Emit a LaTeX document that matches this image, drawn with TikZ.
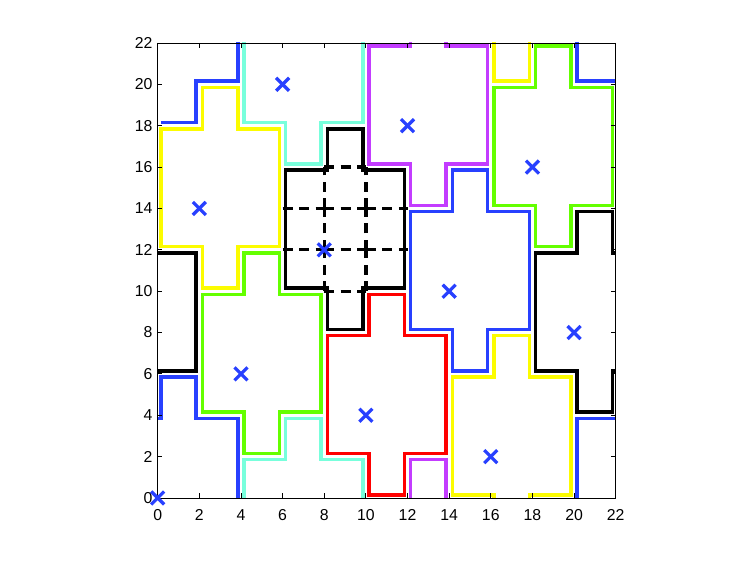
\documentclass[tikz,border=0pt]{standalone}
\usepackage{fontspec}
\setmainfont{Liberation Sans}
\definecolor{tblue}{RGB}{40,64,255}
\definecolor{tyellow}{RGB}{252,252,0}
\definecolor{tgreen}{RGB}{100,255,0}
\definecolor{tcyan}{RGB}{120,255,220}
\definecolor{tpurple}{RGB}{195,60,255}
\definecolor{tred}{RGB}{255,0,0}
\definecolor{tblack}{RGB}{0,0,0}
\tikzset{
  tileline/.style={line width=0.07cm, line join=miter},
  gridline/.style={line width=0.065cm, black, dash pattern=on 0.2cm off 0.13cm},
  markline/.style={line width=0.065cm, tblue},
  axisline/.style={line width=0.5pt, black},
  ticklabel/.style={inner sep=0pt, font=\fontsize{9}{10}\selectfont},
}
\begin{document}
\begin{tikzpicture}
\useasboundingbox (0,0) rectangle (14.94cm,11.24cm);
\begin{scope}[shift={(3.154cm,1.28cm)}, x=0.41636cm, y=0.41364cm]
  \def\dd{0.15}
  % tiles
  \begin{scope}
    \clip (0,0) rectangle (22,22);
    \foreach \a/\b/\c in {0/0/tblue, 2/14/tyellow, 4/6/tgreen, 6/20/tcyan, 8/12/tblack,
                          10/4/tred, 12/18/tpurple, 14/10/tblue, 16/2/tyellow, 18/16/tgreen, 20/8/tblack}{
      \foreach \i in {-22,0,22}{
        \foreach \j in {-22,0,22}{
          \pgfmathsetmacro\ax{\a+\i}
          \pgfmathsetmacro\by{\b+\j}
          \pgfmathtruncatemacro\skipit{(\a==0)*(\b==0)*(\i==0)*(\j==22)}
          \ifnum\skipit=0
          \draw[tileline,\c]
            ({\ax-2+\dd},{\by-2+\dd}) -- ({\ax+\dd},{\by-2+\dd}) -- ({\ax+\dd},{\by-4+\dd})
            -- ({\ax+2-\dd},{\by-4+\dd}) -- ({\ax+2-\dd},{\by-2+\dd}) -- ({\ax+4-\dd},{\by-2+\dd})
            -- ({\ax+4-\dd},{\by+4-\dd}) -- ({\ax+2-\dd},{\by+4-\dd}) -- ({\ax+2-\dd},{\by+6-\dd})
            -- ({\ax+\dd},{\by+6-\dd}) -- ({\ax+\dd},{\by+4-\dd}) -- ({\ax-2+\dd},{\by+4-\dd}) -- cycle;
          \else
          \draw[tileline,\c]
            ({\dd},{18+\dd}) -- ({2-\dd},{18+\dd}) -- ({2-\dd},{20+\dd})
            -- ({4-\dd},{20+\dd}) -- ({4-\dd},23);
          \fi
        }
      }
    }
  \end{scope}
  % dashed internal cell edges of the central tile
  \foreach \y in {10,12,14}{
    \draw[gridline] (8,\y) -- (8,\y+2);
    \draw[gridline] (10,\y) -- (10,\y+2);
  }
  \foreach \x in {6,8,10}{
    \draw[gridline] (\x,12) -- (\x+2,12);
    \draw[gridline] (\x,14) -- (\x+2,14);
  }
  \draw[gridline] (8,16) -- (10,16);
  \draw[gridline] (8,10) -- (10,10);
  % axes box and ticks
  \draw[axisline] (0,0) rectangle (22,22);
  \foreach \v in {0,2,...,22}{
    \draw[axisline] (\v,0) -- (\v,0.22);
    \draw[axisline] (\v,22) -- (\v,21.78);
    \draw[axisline] (0,\v) -- (0.22,\v);
    \draw[axisline] (22,\v) -- (21.78,\v);
    \node[ticklabel, anchor=center] (xl\v) at ([yshift=-0.34cm]\v,0) {\v};
    \node[ticklabel, anchor=east] (yl\v) at ([xshift=-0.1cm]0,\v) {\v};
  }
  % markers
  \foreach \a/\b in {0/0, 2/14, 4/6, 6/20, 8/12, 10/4, 12/18, 14/10, 16/2, 18/16, 20/8}{
    \coordinate (m\a) at (\a,\b);
    \draw[markline] ([shift={(-0.13cm,-0.13cm)}]m\a) -- ([shift={(0.13cm,0.13cm)}]m\a);
    \draw[markline] ([shift={(-0.13cm,0.13cm)}]m\a) -- ([shift={(0.13cm,-0.13cm)}]m\a);
  }
\end{scope}
\end{tikzpicture}
\end{document}
